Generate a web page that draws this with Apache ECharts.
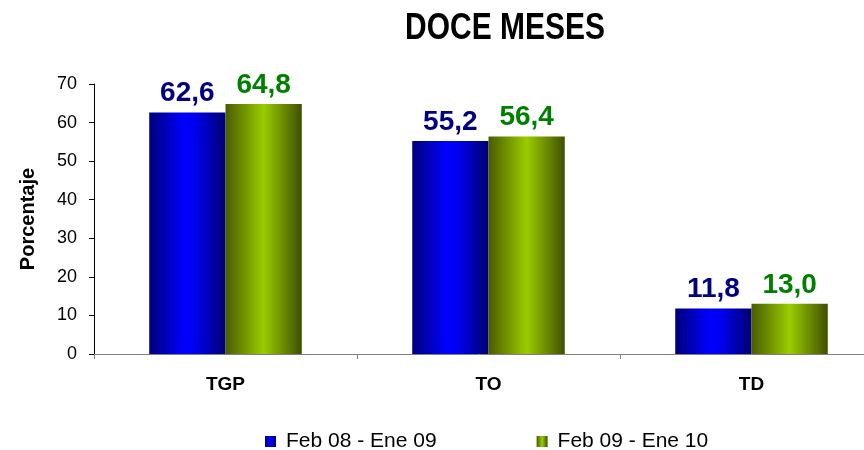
<!DOCTYPE html>
<html><head><meta charset="utf-8">
<script src="https://cdn.jsdelivr.net/npm/echarts@6/dist/echarts.min.js"></script>
<style>html,body{margin:0;padding:0;background:#fff}#c{width:864px;height:450px}</style>
</head><body><div id="c"></div>
<script>
const categories = ['TGP', 'TO', 'TD'];
const seriesNames = ['Feb 08 - Ene 09', 'Feb 09 - Ene 10'];
const values2008 = [62.6, 55.2, 11.8];
const values2009 = [64.8, 56.4, 13.0];
const yTicks = [0, 10, 20, 30, 40, 50, 60, 70];
const titleText = 'DOCE MESES';

const chart = echarts.init(document.getElementById('c'));
const blueGrad = new echarts.graphic.LinearGradient(0, 0, 1, 0, [
  {offset: 0, color: '#00007a'}, {offset: 0.45, color: '#0000ff'}, {offset: 0.6, color: '#0000f0'}, {offset: 1, color: '#000070'}]);
const greenGrad = new echarts.graphic.LinearGradient(0, 0, 1, 0, [
  {offset: 0, color: '#4a5c00'}, {offset: 0.5, color: '#9acc00'}, {offset: 1, color: '#3f5000'}]);
const fmt = p => p.value.toFixed(1).replace('.', ',');
const F = 'Liberation Sans, Arial, sans-serif';
chart.setOption({
  animation: false,
  graphic: [{type: 'text', x: 505, y: 29, scaleX: 0.81, scaleY: 1,
    style: {text: titleText, font: 'bold 37px "Liberation Sans", Arial', fill: '#000',
      textAlign: 'center', textVerticalAlign: 'middle'}}],
  legend: {top: 426, left: 260, itemGap: 100, itemWidth: 11, itemHeight: 11,
    textStyle: {fontFamily: F, fontSize: 21, color: '#000', padding: [0, 0, 0, 5]},
    data: [{name: seriesNames[0], icon: 'rect'}, {name: seriesNames[1], icon: 'rect'}]},
  grid: {left: 94, width: 789, top: 84, bottom: 96, outerBoundsMode: 'none', containLabel: false},
  xAxis: {type: 'category', data: categories,
    axisLine: {lineStyle: {color: '#808080', width: 1}},
    axisTick: {show: true, length: 5, lineStyle: {color: '#808080'}},
    axisLabel: {fontFamily: F, fontSize: 19, fontWeight: 'bold', color: '#000', margin: 21}},
  yAxis: {type: 'value', min: 0, max: 70, interval: 10,
    name: 'Porcentaje', nameLocation: 'middle', nameGap: 56,
    nameTextStyle: {fontFamily: F, fontSize: 20, fontWeight: 'bold', color: '#000'},
    axisLine: {show: true, lineStyle: {color: '#000', width: 1}},
    axisTick: {show: true, length: 5, lineStyle: {color: '#000'}},
    splitLine: {show: false},
    axisLabel: {fontFamily: F, fontSize: 18, color: '#000', margin: 17,
      formatter: v => yTicks.includes(v) ? String(v) : ''}},
  series: [
    {name: seriesNames[0], type: 'bar', data: values2008, barGap: '0%', barCategoryGap: '42%',
      itemStyle: {color: blueGrad},
      label: {show: true, position: 'top', distance: 5, formatter: fmt,
        fontFamily: F, fontSize: 28, fontWeight: 'bold', color: '#000080'}},
    {name: seriesNames[1], type: 'bar', data: values2009, barGap: '0%', barCategoryGap: '42%',
      itemStyle: {color: greenGrad},
      label: {show: true, position: 'top', distance: 5, formatter: fmt,
        fontFamily: F, fontSize: 28, fontWeight: 'bold', color: '#008000'}}
  ]
});
</script></body></html>
